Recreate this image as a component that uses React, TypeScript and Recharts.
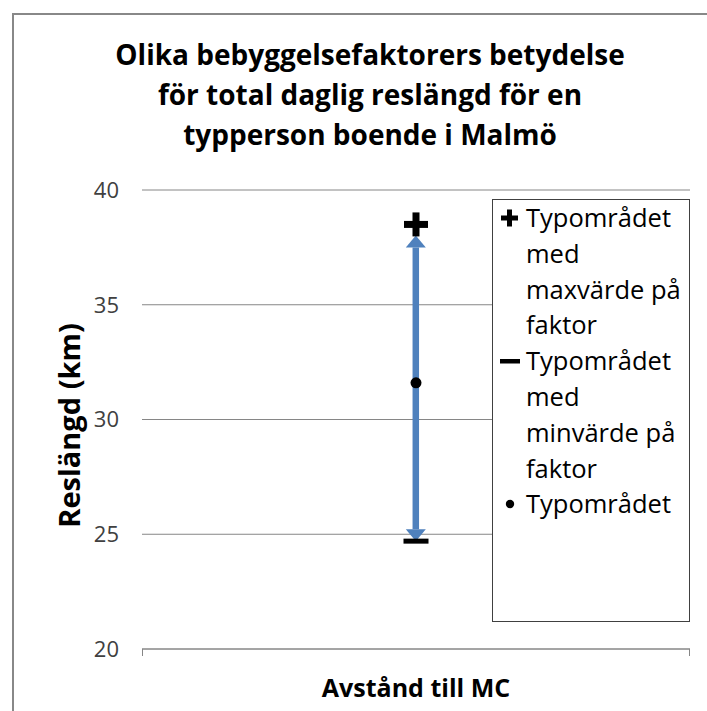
import React from "react";
import {
  ComposedChart,
  Bar,
  Line,
  XAxis,
  YAxis,
  CartesianGrid,
  Legend,
} from "recharts";

const CATEGORIES = ["Avstånd till MC"];
const MAX_VALUES = [38.5];
const MIN_VALUES = [24.7];
const TYP_VALUES = [31.6];
const Y_TICKS = [20, 25, 30, 35, 40];

const TITLE_LINES = [
  "Olika bebyggelsefaktorers betydelse",
  "för total daglig reslängd för en",
  "typperson boende i Malmö",
];
const Y_LABEL = "Reslängd (km)";
const X_LABEL = "Avstånd till MC";
const SERIES_NAMES = {
  max: "Typområdet\nmed\nmaxvärde på\nfaktor",
  min: "Typområdet\nmed\nminvärde på\nfaktor",
  typ: "Typområdet",
};

const FONT = "'Open Sans', Lato, sans-serif";
const BLUE = "#4F81BD";
const GRID = "#868686";

const data = CATEGORIES.map((cat, i) => ({
  cat,
  max: MAX_VALUES[i],
  min: MIN_VALUES[i],
  typ: TYP_VALUES[i],
  range: [MIN_VALUES[i], MAX_VALUES[i]],
}));

// double headed arrow between low and high
const ArrowShape = (props: any) => {
  const { x, y, width, height } = props;
  const cx = x + width / 2;
  const top = Math.min(y, y + height) + 11;
  const bottom = Math.max(y, y + height);
  const hw = 10;
  const hh = 12;
  return (
    <g>
      <line x1={cx} x2={cx} y1={top + hh} y2={bottom - hh} stroke={BLUE} strokeWidth={6.5} />
      <polygon points={`${cx},${top} ${cx - hw},${top + hh} ${cx + hw},${top + hh}`} fill={BLUE} />
      <polygon points={`${cx},${bottom} ${cx - hw},${bottom - hh} ${cx + hw},${bottom - hh}`} fill={BLUE} />
    </g>
  );
};

const PlusDot = (props: any) => {
  const { cx, cy } = props;
  if (cx == null || cy == null) return null;
  return (
    <g>
      <rect x={cx - 12} y={cy - 3.5} width={24} height={7} fill="#000" />
      <rect x={cx - 3.5} y={cy - 12} width={7} height={24} fill="#000" />
    </g>
  );
};

const DashDot = (props: any) => {
  const { cx, cy } = props;
  if (cx == null || cy == null) return null;
  return <rect x={cx - 12.5} y={cy - 2.5} width={25} height={5} fill="#000" />;
};

const RoundDot = (props: any) => {
  const { cx, cy } = props;
  if (cx == null || cy == null) return null;
  return <circle cx={cx} cy={cy} r={5.5} fill="#000" />;
};

const legendIcon = (key: string) => {
  if (key === "max")
    return (
      <svg width={18} height={18}>
        <rect x={0} y={6.5} width={17} height={5} fill="#000" />
        <rect x={6} y={0.5} width={5} height={17} fill="#000" />
      </svg>
    );
  if (key === "min")
    return (
      <svg width={20} height={18}>
        <rect x={0} y={7} width={20} height={4.5} fill="#000" />
      </svg>
    );
  return (
    <svg width={18} height={18}>
      <circle cx={9} cy={9} r={4.2} fill="#000" />
    </svg>
  );
};

const LEGEND_ORDER = ["max", "min", "typ"];

const LegendBox = (props: any) => {
  const items = (props.payload || [])
    .filter((p: any) => LEGEND_ORDER.includes(p.dataKey))
    .sort((a: any, b: any) => LEGEND_ORDER.indexOf(a.dataKey) - LEGEND_ORDER.indexOf(b.dataKey));
  return (
    <div style={{ fontFamily: FONT, fontSize: 25.5, lineHeight: "35.8px", color: "#000" }}>
      {items.map((p: any) => (
        <div key={p.dataKey} style={{ display: "flex" }}>
          <div style={{ width: 33, height: 35.8, flexShrink: 0, display: "flex", alignItems: "center", justifyContent: "center" }}>
            {legendIcon(p.dataKey)}
          </div>
          <div style={{ whiteSpace: "pre-line" }}>{p.value}</div>
        </div>
      ))}
    </div>
  );
};

const YLabel = (props: any) => {
  const vb = props.viewBox || {};
  const cx = 68;
  const cy = vb.y + vb.height / 2 + 6;
  return (
    <text
      x={cx}
      y={cy}
      transform={`rotate(-90 ${cx} ${cy})`}
      textAnchor="middle"
      dominantBaseline="central"
      fontFamily={FONT}
      fontWeight="bold"
      fontSize={29}
      fill="#000"
    >
      {Y_LABEL}
    </text>
  );
};

// axis title plus the tick marks at both ends of the category axis
const XLabel = (props: any) => {
  const vb = props.viewBox || {};
  const left = vb.x;
  const right = vb.x + vb.width;
  return (
    <g>
      <line x1={left + 0.5} x2={left + 0.5} y1={vb.y} y2={vb.y + 7} stroke={GRID} />
      <line x1={right - 0.5} x2={right - 0.5} y1={vb.y} y2={vb.y + 7} stroke={GRID} />
      <text
        x={vb.x + vb.width / 2}
        y={vb.y + 48}
        textAnchor="middle"
        fontFamily={FONT}
        fontWeight="bold"
        fontSize={25}
        fill="#000"
      >
        {X_LABEL}
      </text>
    </g>
  );
};

export default function App() {
  return (
    <div
      style={{
        position: "absolute",
        left: 0,
        top: 0,
        width: 707,
        height: 711,
        overflow: "hidden",
        background: "#fff",
      }}
    >
      <div
        style={{
          position: "absolute",
          left: 12,
          top: 13,
          width: 800,
          height: 800,
          borderLeft: "2px solid #888",
          borderTop: "2px solid #888",
        }}
      />
      <div
        style={{
          position: "absolute",
          left: 70,
          top: 34,
          width: 600,
          textAlign: "center",
          fontFamily: FONT,
          fontWeight: "bold",
          fontSize: 28,
          lineHeight: "40px",
          color: "#000",
        }}
      >
        {TITLE_LINES.map((l) => (
          <div key={l}>{l}</div>
        ))}
      </div>
      <ComposedChart
        width={707}
        height={711}
        data={data}
        margin={{ top: 190, right: 17, bottom: 32, left: 82 }}
        style={{ position: "absolute", left: 0, top: 0 }}
      >
        <CartesianGrid horizontal vertical={false} stroke={GRID} />
        <XAxis
          dataKey="cat"
          tick={false}
          tickLine={false}
          stroke={GRID}
          height={30}
          label={<XLabel />}
        />
        <YAxis
          domain={[20, 40]}
          ticks={Y_TICKS}
          axisLine={false}
          tickLine={false}
          tickSize={0}
          tickMargin={23}
          width={60}
          tick={{ fontFamily: FONT, fontSize: 22, fill: "#404040" }}
          label={<YLabel />}
        />
        <Bar
          dataKey="range"
          shape={<ArrowShape />}
          legendType="none"
          isAnimationActive={false}
        />
        <Line
          dataKey="max"
          name={SERIES_NAMES.max}
          stroke="none"
          dot={<PlusDot />}
          activeDot={false}
          isAnimationActive={false}
        />
        <Line
          dataKey="min"
          name={SERIES_NAMES.min}
          stroke="none"
          dot={<DashDot />}
          activeDot={false}
          isAnimationActive={false}
        />
        <Line
          dataKey="typ"
          name={SERIES_NAMES.typ}
          stroke="none"
          dot={<RoundDot />}
          activeDot={false}
          isAnimationActive={false}
        />
        <Legend
          layout="horizontal"
          verticalAlign="middle"
          align="center"
          content={<LegendBox />}
          wrapperStyle={{
            position: "absolute",
            left: 492,
            top: 199,
            right: "auto",
            bottom: "auto",
            width: 198,
            height: 423,
            boxSizing: "border-box",
            border: "1.5px solid #404040",
            background: "#fff",
            margin: 0,
          }}
        />
      </ComposedChart>
    </div>
  );
}
